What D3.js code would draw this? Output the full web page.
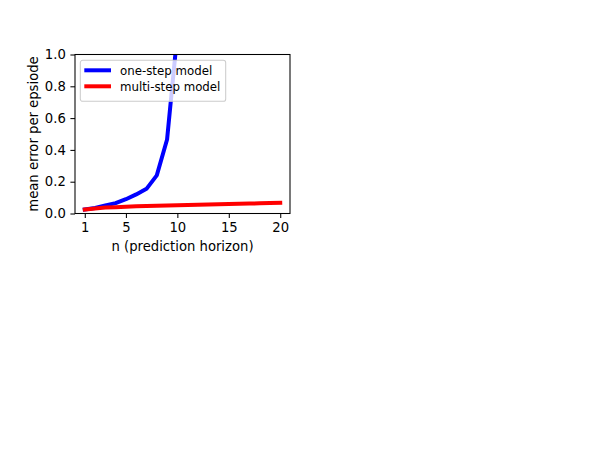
<!DOCTYPE html>
<html>
<head>
<meta charset="utf-8">
<script src="https://cdn.jsdelivr.net/npm/d3@7"></script>
<style>
  body { margin: 0; background: #fff; }
  text { font-family: "DejaVu Sans", sans-serif; fill: #000; }
</style>
</head>
<body>
<div id="chart"></div>
<script>
// values
var horizons = d3.range(1, 21)
var oneStep = [0.025, 0.035, 0.05, 0.065, 0.09, 0.12, 0.155, 0.24, 0.465, 1.13]
var multiStep = [0.025, 0.032, 0.037, 0.040, 0.043, 0.045, 0.047, 0.049, 0.051, 0.052,
                 0.054, 0.055, 0.057, 0.058, 0.060, 0.061, 0.063, 0.064, 0.066, 0.068]
var xTicks = [1, 5, 10, 15, 20]
var yTicks = [0, 0.2, 0.4, 0.6, 0.8, 1.0]
var seriesNames = ['one-step model', 'multi-step model']
var seriesColors = ['#0000ff', '#ff0000']

var margin = {left: 75, top: 54.5}
var width = 215, height = 159

var svg = d3.select('#chart').append('svg')
  .attr('width', 607).attr('height', 456)

var g = svg.append('g').attr('transform', 'translate(' + margin.left + ',' + margin.top + ')')

var x = d3.scaleLinear().domain([0.05, 20.95]).range([0, width])
var y = d3.scaleLinear().domain([0, 1]).range([height, 0])

g.append('clipPath').attr('id', 'clip')
  .append('rect').attr('width', width).attr('height', height)

var line = d3.line().x(function(d){ return x(d[0]) }).y(function(d){ return y(d[1]) })

var series = [oneStep, multiStep].map(function(vals){
  return vals.map(function(v, i){ return [horizons[i], v] })
})

var plot = g.append('g').attr('clip-path', 'url(#clip)')
plot.selectAll('path.series').data(series).enter().append('path')
  .attr('class', 'series')
  .attr('d', line)
  .attr('fill', 'none')
  .attr('stroke', function(d, i){ return seriesColors[i] })
  .attr('stroke-width', 4)
  .attr('stroke-linejoin', 'round')
  .attr('stroke-linecap', 'square')

// axes, matplotlib-ish
var xAxis = d3.axisBottom(x).tickValues(xTicks).tickFormat(d3.format('d'))
  .tickSizeInner(4.6).tickSizeOuter(0).tickPadding(4.6)
var yAxis = d3.axisLeft(y).tickValues(yTicks).tickFormat(d3.format('.1f'))
  .tickSizeInner(4.6).tickSizeOuter(0).tickPadding(4.6)

var xg = g.append('g').attr('transform', 'translate(0,' + height + ')').call(xAxis)
var yg = g.append('g').call(yAxis)
;[xg, yg].forEach(function(a){
  a.select('.domain').remove()
  a.selectAll('text').style('font-size', '13.2px').attr('fill', '#000')
  a.selectAll('line').attr('stroke', '#000').attr('stroke-width', 1.05)
})

g.append('rect')
  .attr('width', width).attr('height', height)
  .attr('fill', 'none').attr('stroke', '#000').attr('stroke-width', 1.05)

g.append('text')
  .attr('x', width / 2).attr('y', 196.5)
  .attr('text-anchor', 'middle').style('font-size', '13.2px')
  .text('n (prediction horizon)')

svg.append('text')
  .attr('transform', 'translate(37.5,' + (margin.top + height / 2) + ') rotate(-90)')
  .attr('text-anchor', 'middle').style('font-size', '13.2px')
  .text('mean error per epsiode')

// legend
var leg = g.append('g').attr('transform', 'translate(5.3,5.8)')
leg.append('rect')
  .attr('width', 145.4).attr('height', 41).attr('rx', 2.4)
  .attr('fill', '#fff').attr('fill-opacity', 0.8)
  .attr('stroke', '#cccccc').attr('stroke-width', 1.05)

var item = leg.selectAll('g.item').data(seriesNames).enter().append('g')
  .attr('transform', function(d, i){ return 'translate(0,' + (10 + i * 16) + ')' })
item.append('line')
  .attr('x1', 6).attr('x2', 28.7)
  .attr('stroke', function(d, i){ return seriesColors[i] })
  .attr('stroke-width', 4).attr('stroke-linecap', 'square')
item.append('text')
  .attr('x', 39.7).attr('dy', '0.36em')
  .style('font-size', '11.8px')
  .text(function(d){ return d })
</script>
</body>
</html>
